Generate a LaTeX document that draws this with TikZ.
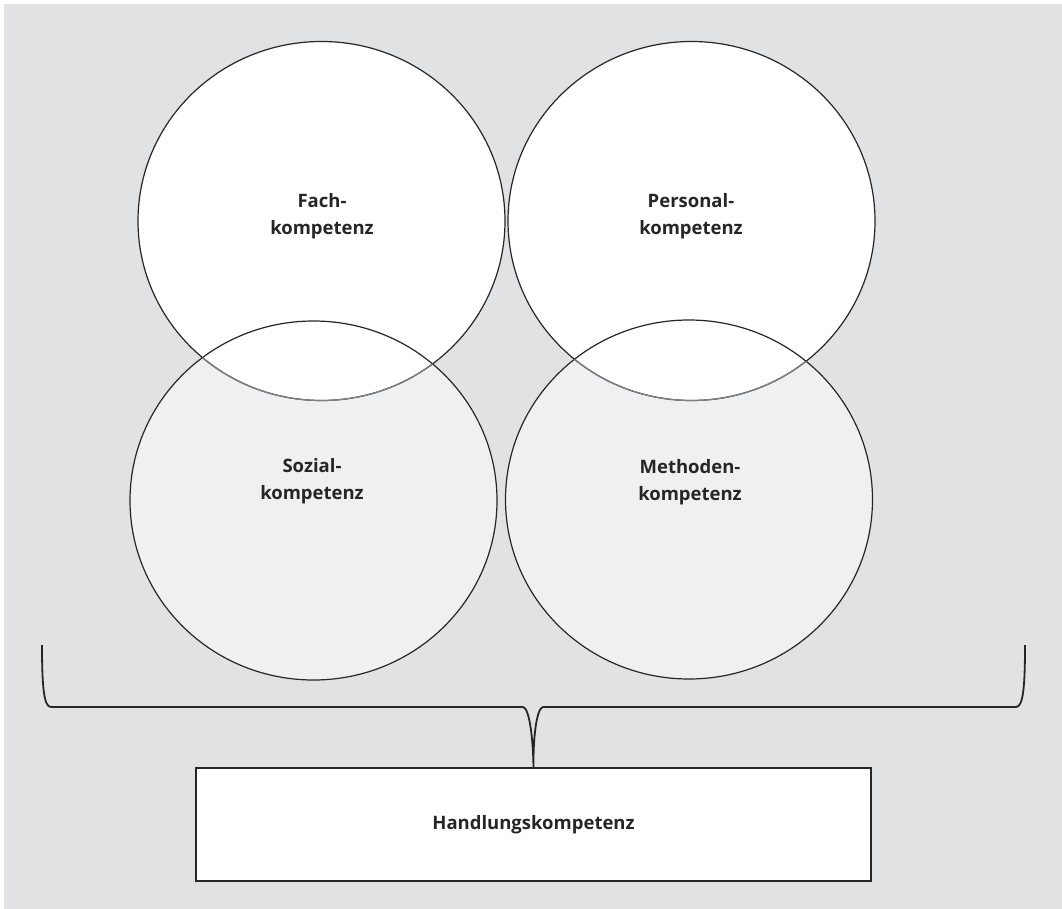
\documentclass[tikz,border=0pt]{standalone}
\usepackage{fontspec}
\setsansfont{Open Sans}
\usetikzlibrary{calc}
\definecolor{BackClr}{RGB}{225,226,228}
\definecolor{LowClr}{RGB}{239,240,242}
\definecolor{LineClr}{RGB}{38,38,38}
\definecolor{ArcClr}{RGB}{128,128,128}
\tikzset{
  ring/.style={draw=LineClr,line width=1.2pt},
  ringsize/.style={x radius=183.5pt,y radius=179.5pt},
  kompetenz/.style={font=\sffamily\bfseries\fontsize{18.5}{26.5}\selectfont,text=LineClr,align=center,inner sep=0pt},
  bracket/.style={draw=LineClr,line width=1.8pt},
}
\begin{document}
\begin{tikzpicture}[x=1pt,y=-1pt]
\useasboundingbox (0,0) rectangle (1062,909);
\fill[BackClr] (4,4) rectangle (1062,909);

\coordinate (F) at (321.5,221);
\coordinate (P) at (691.5,221);
\coordinate (S) at (313.5,500.5);
\coordinate (M) at (689,499.5);

\fill[LowClr] (S) ellipse[ringsize] (M) ellipse[ringsize];
\fill[white] (F) ellipse[ringsize] (P) ellipse[ringsize];
\draw[ring] (S) ellipse[ringsize] (M) ellipse[ringsize];
\draw[ring] (F) ellipse[ringsize] (P) ellipse[ringsize];
\begin{scope}
\clip (S) ellipse[ringsize] (M) ellipse[ringsize];
\draw[ring,draw=ArcClr] (F) ellipse[ringsize] (P) ellipse[ringsize];
\end{scope}

\node[kompetenz] (fach) at (322,216) {Fach-\\kompetenz};
\node[kompetenz] (personal) at (691,216) {Personal-\\kompetenz};
\node[kompetenz] (sozial) at (312,481) {Sozial-\\kompetenz};
\node[kompetenz] (methoden) at (690,482) {Methoden-\\kompetenz};

\node[draw=LineClr,line width=1.8pt,fill=white,outer sep=0pt,inner sep=0pt,
      minimum width=675pt,minimum height=113pt,
      font=\sffamily\bfseries\fontsize{18.5}{26.5}\selectfont,text=LineClr] (hk) at (533.5,824.5) {Handlungskompetenz};

\coordinate (bl) at (42,645);
\coordinate (br) at (1025,645);
\draw[bracket] (bl) .. controls (42,688) and (44,707) .. (51,707) -- (523,707)
  .. controls (529,708) and (533,735) .. (hk.north)
  .. controls (533,735) and (537,708) .. (543,707) -- (1016,707)
  .. controls (1023,707) and (1025,688) .. (br);
\end{tikzpicture}
\end{document}
